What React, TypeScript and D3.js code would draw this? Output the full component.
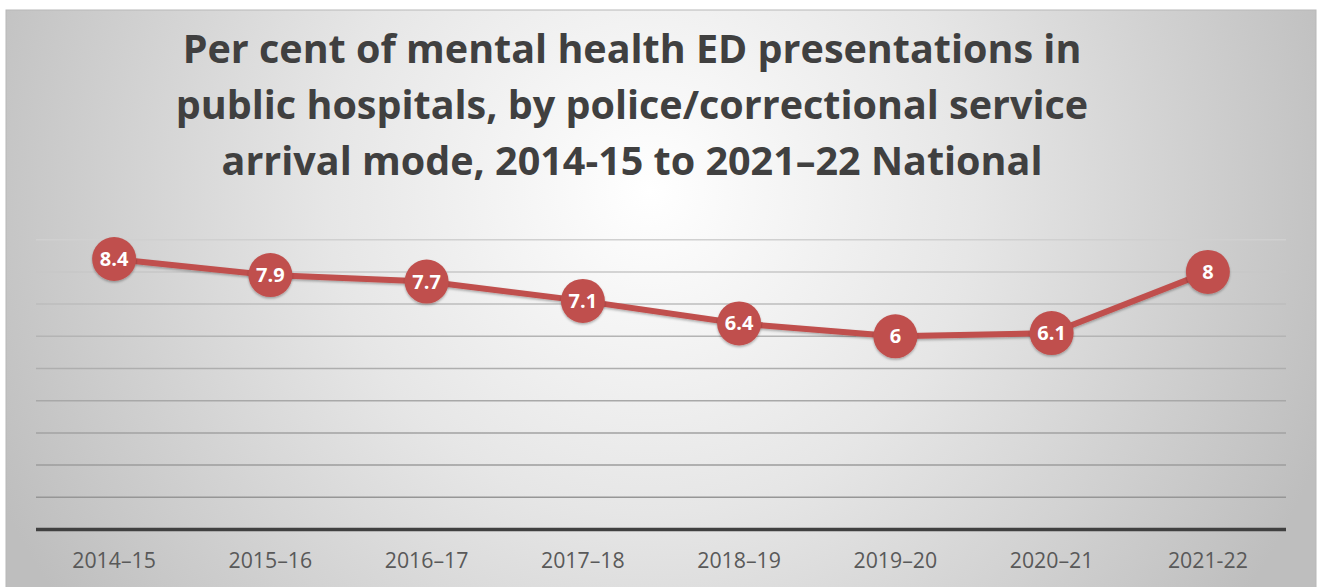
import React from "react";
import * as d3 from "d3";

const categories = ["2014–15", "2015–16", "2016–17", "2017–18", "2018–19", "2019–20", "2020–21", "2021-22"];
const values = [8.4, 7.9, 7.7, 7.1, 6.4, 6, 6.1, 8];
const valueLabels = ["8.4", "7.9", "7.7", "7.1", "6.4", "6", "6.1", "8"];
const gridTicks = [1, 2, 3, 4, 5, 6, 7, 8, 9];
const titleLines = [
  "Per cent of mental health ED presentations in",
  "public hospitals, by police/correctional service",
  "arrival mode, 2014-15 to 2021–22 National",
];

const W = 1321;
const H = 587;
const RED = "#C0504D";

export default function App() {
  const x = d3.scaleBand<string>().domain(categories).range([36, 1286]);
  const y = d3.scaleLinear().domain([0, 9]).range([529.5, 239.7]);
  const gridColor = d3.scaleLinear<string>().domain([9, 6, 1]).range(["#d0d0d0", "#b4b4b4", "#969696"]);
  const cx = (c: string) => (x(c) ?? 0) + x.bandwidth() / 2;
  const line = d3
    .line<number>()
    .x((_, i) => cx(categories[i]))
    .y((v) => y(v));

  return (
    <svg
      width={W}
      height={H}
      style={{ position: "absolute", left: 0, top: 0, display: "block" }}
      fontFamily="'Open Sans', sans-serif"
    >
      <defs>
        <radialGradient id="bg" gradientUnits="userSpaceOnUse" cx={650} cy={190} r={720}>
          <stop offset="0" stopColor="#ffffff" />
          <stop offset="0.45" stopColor="#e6e6e6" />
          <stop offset="1" stopColor="#bebebe" />
        </radialGradient>
        <filter id="shadow" x="-30%" y="-30%" width="160%" height="160%">
          <feDropShadow dx="0" dy="1.5" stdDeviation="1.2" floodColor="#000" floodOpacity="0.3" />
        </filter>
      </defs>
      <rect x={0} y={0} width={W} height={H} fill="#ffffff" />
      <rect x={6} y={10} width={1310} height={600} fill="url(#bg)" stroke="#b8b8b8" strokeWidth={1} />

      {titleLines.map((t, i) => (
        <text
          key={i}
          x={632}
          y={63 + i * 56}
          textAnchor="middle"
          fontSize={39.5}
          fontWeight={700}
          fill="#404040"
        >
          {t}
        </text>
      ))}

      {gridTicks.map((t) => (
        <line
          key={t}
          x1={36}
          x2={1286}
          y1={y(t)}
          y2={y(t)}
          stroke={gridColor(t)}
          strokeWidth={1.5}
        />
      ))}
      <line x1={36} x2={1286} y1={y(0)} y2={y(0)} stroke="#404040" strokeWidth={3.5} />

      {categories.map((c) => (
        <text key={c} x={cx(c)} y={568} textAnchor="middle" fontSize={21.3} fill="#595959">
          {c}
        </text>
      ))}

      <path d={line(values) ?? ""} fill="none" stroke={RED} strokeWidth={6} strokeLinejoin="round" filter="url(#shadow)" />
      {values.map((v, i) => (
        <g key={i} transform={`translate(${cx(categories[i])},${y(v)})`}>
          <circle r={22} fill={RED} filter="url(#shadow)" />
          <text y={7} textAnchor="middle" fontSize={20} fontWeight={700} fill="#ffffff">
            {valueLabels[i]}
          </text>
        </g>
      ))}
    </svg>
  );
}
